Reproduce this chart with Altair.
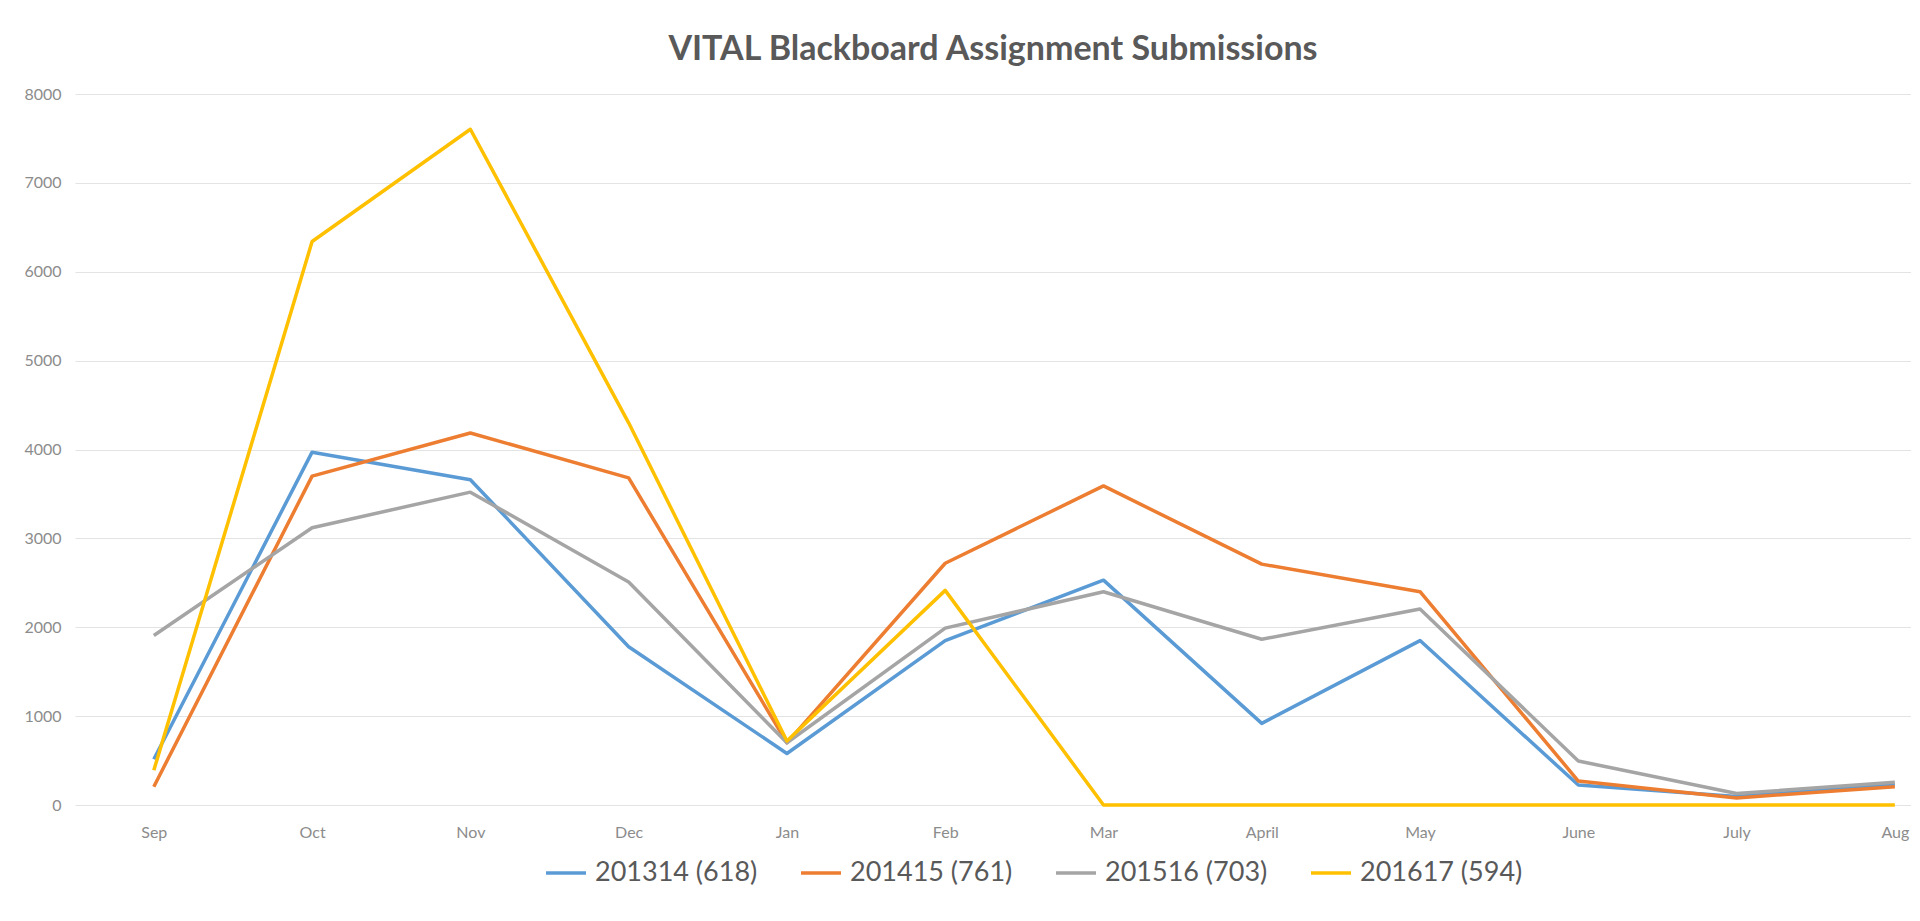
import altair as alt
import pandas as pd

months = ["Sep", "Oct", "Nov", "Dec", "Jan", "Feb", "Mar", "April", "May", "June", "July", "Aug"]
series = ["201314 (618)", "201415 (761)", "201516 (703)", "201617 (594)"]
colors = ["#5B9BD5", "#ED7D31", "#A5A5A5", "#FFC000"]

v_201314 = [515, 3970, 3660, 1780, 580, 1850, 2530, 918, 1850, 225, 95, 230]
v_201415 = [206, 3700, 4186, 3680, 700, 2720, 3590, 2710, 2400, 270, 80, 205]
v_201516 = [1907, 3120, 3520, 2510, 700, 1990, 2400, 1865, 2205, 495, 130, 255]
v_201617 = [390, 6340, 7603, 4300, 720, 2415, 0, 0, 0, 0, 0, 0]

y_ticks = [0, 1000, 2000, 3000, 4000, 5000, 6000, 7000, 8000]

rows = []
for name, vals in zip(series, [v_201314, v_201415, v_201516, v_201617]):
    for m, v in zip(months, vals):
        rows.append({"month": m, "series": name, "value": v})
df = pd.DataFrame(rows)

chart = (
    alt.Chart(df)
    .mark_line(strokeWidth=3.5, strokeJoin="round")
    .encode(
        x=alt.X(
            "month:N",
            sort=months,
            scale=alt.Scale(type="point", padding=0.3, align=0.83),
            axis=alt.Axis(
                title=None, labelAngle=0, ticks=False, domain=False, grid=False,
                labelFont="Lato", labelFontSize=16, labelColor="#8c8c8c", labelPadding=19,
            ),
        ),
        y=alt.Y(
            "value:Q",
            scale=alt.Scale(domain=[0, 8000], nice=False),
            axis=alt.Axis(
                title=None, values=y_ticks, format="d", ticks=False, domain=False,
                gridColor="#e3e3e3", gridWidth=1.2,
                labelFont="Lato", labelFontSize=16, labelColor="#8c8c8c", labelPadding=14,
            ),
        ),
        color=alt.Color(
            "series:N",
            scale=alt.Scale(domain=series, range=colors),
            legend=alt.Legend(
                title=None, orient="none", legendX=469, legendY=757,
                direction="horizontal", symbolType="stroke", symbolSize=1600,
                symbolStrokeWidth=3.5, labelFontSize=27, labelFont="Lato",
                labelColor="#595959", columnPadding=36, labelOffset=7, padding=0,
                labelLimit=500,
            ),
        ),
    )
    .properties(
        width=1836,
        height=711,
        padding={"left": 15, "top": 25, "right": 0, "bottom": 0},
        title=alt.TitleParams(
            "VITAL Blackboard Assignment Submissions",
            font="Lato", fontSize=34, fontWeight="bold", color="#595959",
            anchor="middle", offset=19,
        ),
    )
    .configure_view(stroke=None)
)

chart.save("out.html", embed_options={"renderer": "svg", "actions": False})
